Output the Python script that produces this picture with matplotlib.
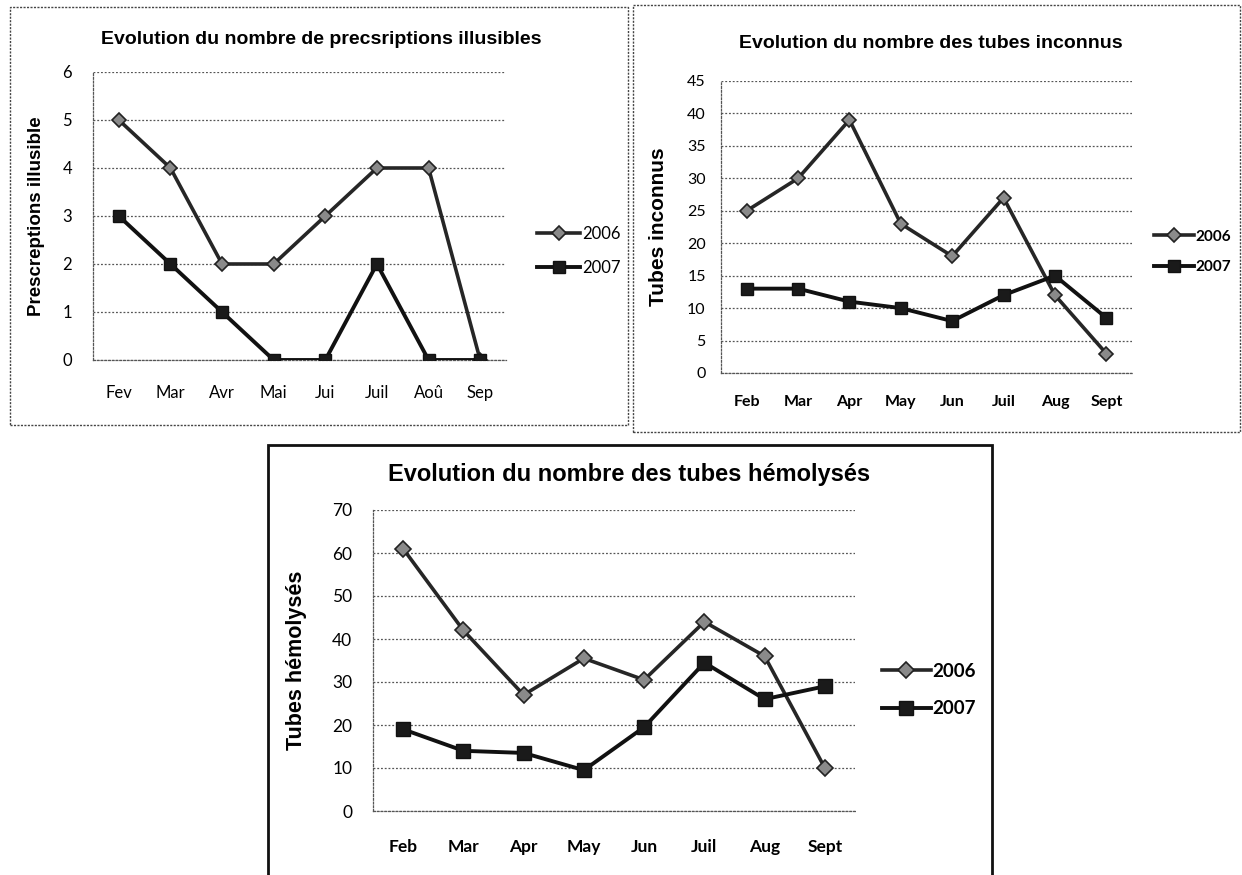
import matplotlib
matplotlib.use("Agg")
import matplotlib.pyplot as plt
from matplotlib.patches import Rectangle

W, H = 1242, 875

# data
mois_fr = ["Fev", "Mar", "Avr", "Mai", "Jui", "Juil", "Aoû", "Sep"]
presc_2006 = [5, 4, 2, 2, 3, 4, 4, 0]
presc_2007 = [3, 2, 1, 0, 0, 2, 0, 0]

mois_en = ["Feb", "Mar", "Apr", "May", "Jun", "Juil", "Aug", "Sept"]
inconnus_2006 = [25, 30, 39, 23, 18, 27, 12, 3]
inconnus_2007 = [13, 13, 11, 10, 8, 12, 15, 8.5]

hemo_2006 = [61, 42, 27, 35.5, 30.5, 44, 36, 10]
hemo_2007 = [19, 14, 13.5, 9.5, 19.5, 34.5, 26, 29]

fig = plt.figure(figsize=(W / 100, H / 100), dpi=100)
fig.patch.set_facecolor("white")

TITLE_FONT = "Liberation Sans"
TICK_FONT = "Lato"


def px_axes(left, right, top, bottom):
    return fig.add_axes([left / W, 1 - bottom / H, (right - left) / W, (bottom - top) / H])


def panel_box(x0, y0, x1, y1, **kw):
    fig.patches.append(Rectangle((x0 / W, 1 - y1 / H), (x1 - x0) / W, (y1 - y0) / H,
                                 transform=fig.transFigure, fill=False, **kw))


def draw_panel(ax, cats, s06, s07, ymax, ystep, title, title_xy, title_size,
               ylabel, ylabel_x, tick_size, xbold, legend_xy, leg_size, leg_bold,
               ypad, xpad, ylabel_size, msq, mdi):
    x = range(len(cats))
    ax.plot(x, s06, color="#262626", lw=2.6, marker="D", ms=mdi,
            mfc="#8a8a8a", mec="#222222", mew=1.2, label="2006", zorder=3)
    ax.plot(x, s07, color="#111111", lw=2.8, marker="s", ms=msq,
            mfc="#1a1a1a", mec="#111111", label="2007", zorder=4)
    ax.set_xlim(-0.5, len(cats) - 0.5)
    ax.set_ylim(0, ymax)
    ax.set_yticks(range(0, ymax + 1, ystep))
    ax.set_xticks(list(x))
    ax.set_xticklabels(cats, fontfamily=TICK_FONT, fontsize=tick_size,
                       fontweight="bold" if xbold else "normal")
    for lab in ax.get_yticklabels():
        lab.set_fontfamily(TICK_FONT)
        lab.set_fontsize(tick_size)
    ax.tick_params(length=0, pad=0)
    ax.tick_params(axis="y", pad=ypad)
    ax.tick_params(axis="x", pad=xpad)
    ax.yaxis.grid(True, color="#555555", ls=(0, (1.5, 1.5)), lw=0.9)
    ax.set_axisbelow(True)
    for side in ["top", "right"]:
        ax.spines[side].set_visible(False)
    for side in ["left", "bottom"]:
        ax.spines[side].set_color("#555555")
        ax.spines[side].set_linestyle((0, (1.5, 1.5)))
        ax.spines[side].set_linewidth(0.9)
    ax.set_ylabel(ylabel, fontfamily=TITLE_FONT, fontweight="bold", fontsize=ylabel_size)
    pos = ax.get_position()
    ax.yaxis.set_label_coords((ylabel_x / W - pos.x0) / pos.width, 0.5)
    fig.text(title_xy[0] / W, 1 - title_xy[1] / H, title, ha="center", va="center",
             fontfamily=TITLE_FONT, fontweight="bold", fontsize=title_size)
    leg = ax.legend(loc="center left", bbox_to_anchor=(legend_xy[0] / W, 1 - legend_xy[1] / H),
                    bbox_transform=fig.transFigure, frameon=False, borderpad=0,
                    borderaxespad=0, handlelength=2.6, handletextpad=0.1,
                    labelspacing=1.1, prop={"family": TICK_FONT, "size": leg_size,
                                            "weight": "bold" if leg_bold else "normal"})
    return leg


# panel 1
ax1 = px_axes(93, 506, 72, 360)
draw_panel(ax1, mois_fr, presc_2006, presc_2007, 6, 1,
           "Evolution du nombre de precsriptions illusibles", (321, 40), 14,
           "Prescreptions illusible", 45, 12, False, (537, 251), 12, False,
           15, 18, 13.5, 9, 7)
panel_box(10, 7, 628, 425, ec="#444444", lw=1.0, ls=(0, (1.5, 1)))

# panel 2
ax2 = px_axes(721, 1132, 81, 373)
draw_panel(ax2, mois_en, inconnus_2006, inconnus_2007, 45, 5,
           "Evolution du nombre des tubes inconnus", (931, 44), 14,
           "Tubes inconnus", 668, 11.5, True, (1154, 252), 11, True,
           11, 16, 15, 9, 7)
panel_box(633, 5, 1240, 432, ec="#444444", lw=1.0, ls=(0, (1.5, 1)))

# panel 3
ax3 = px_axes(373, 855, 510, 811)
draw_panel(ax3, mois_en, hemo_2006, hemo_2007, 70, 10,
           "Evolution du nombre des tubes hémolysés", (629, 475), 17,
           "Tubes hémolysés", 307, 12.5, True, (882, 690), 13.5, True,
           15, 20, 15.5, 10.5, 8)
panel_box(268, 445, 992, 900, ec="#111111", lw=2.0)

fig.savefig("out.png", dpi=100)
